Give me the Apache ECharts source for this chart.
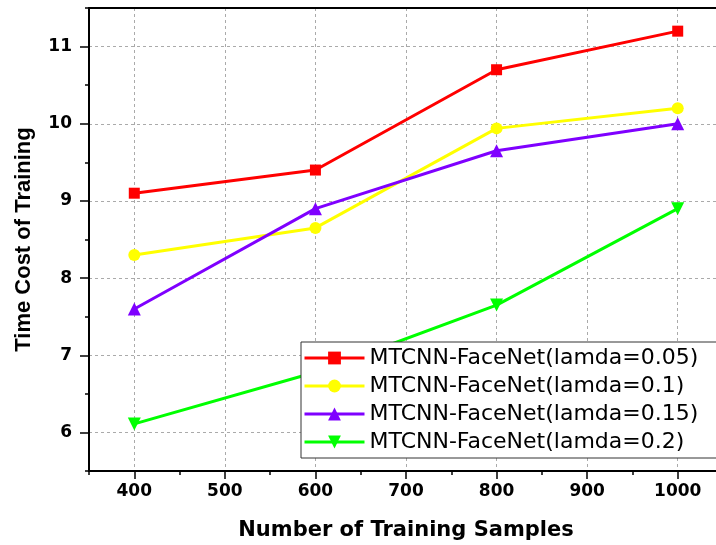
<!DOCTYPE html>
<html>
<head>
<meta charset="utf-8">
<script src="https://cdn.jsdelivr.net/npm/echarts@6/dist/echarts.min.js"></script>
<style>html,body{margin:0;padding:0;background:#fff;}#c{width:716px;height:545px;}</style>
</head>
<body>
<div id="c"></div>
<script>
var samples = [400, 600, 800, 1000];
var seriesNames = ['MTCNN-FaceNet(lamda=0.05)', 'MTCNN-FaceNet(lamda=0.1)', 'MTCNN-FaceNet(lamda=0.15)', 'MTCNN-FaceNet(lamda=0.2)'];
var lamda005 = [9.1, 9.4, 10.7, 11.2];
var lamda01 = [8.3, 8.65, 9.94, 10.2];
var lamda015 = [7.6, 8.9, 9.65, 10.0];
var lamda02 = [6.11, 6.78, 7.65, 8.9];
var xTickLabels = [400, 500, 600, 700, 800, 900, 1000];
var yTickLabels = [6, 7, 8, 9, 10, 11];

var colors = ['#ff0000', '#ffff00', '#7f00ff', '#00ff00'];
var symbols = ['rect', 'circle', 'triangle', 'triangle'];
var rotates = [0, 0, 0, 180];
var sizes = [11, 12, 13, 13];
var values = [lamda005, lamda01, lamda015, lamda02];

function pairs(arr) { return samples.map(function (x, i) { return [x, arr[i]]; }); }
function plain(v) { return String(v); }

var labelFont = { fontFamily: 'DejaVu Sans', fontWeight: 'bold', fontSize: 17, color: '#000' };

var chart = echarts.init(document.getElementById('c'), null, { renderer: 'canvas' });
chart.setOption({
  animation: false,
  backgroundColor: '#fff',
  grid: { left: 89, top: 8, right: -7, bottom: 74, outerBoundsMode: 'none', containLabel: false },
  legend: {
    orient: 'vertical',
    left: 301, top: 342,
    padding: [5, 20, 5, 2],
    itemWidth: 60, itemHeight: 16, itemGap: 6,
    borderColor: '#333', borderWidth: 1,
    backgroundColor: '#fff',
    lineStyle: { width: 3 },
    textStyle: { fontFamily: 'DejaVu Sans', fontSize: 22, color: '#000' },
    data: seriesNames
  },
  xAxis: [
    {
      type: 'value', min: 350, max: 1050, interval: 50, position: 'bottom',
      axisLine: { show: true, lineStyle: { color: '#000', width: 2 } },
      axisTick: { show: true, length: 4, lineStyle: { color: '#000', width: 1.5 } },
      axisLabel: { show: false },
      splitLine: { show: false }
    },
    {
      type: 'value', min: 350, max: 1050, interval: 50, position: 'bottom',
      axisLine: { show: false },
      axisTick: { show: true, length: 8, customValues: xTickLabels, lineStyle: { color: '#000', width: 1.5 } },
      axisLabel: Object.assign({ show: true, margin: 12, customValues: xTickLabels, formatter: plain }, labelFont),
      splitLine: { show: true, lineStyle: { color: '#aaa', type: [3, 3], width: 1 } },
      name: 'Number of Training Samples', nameLocation: 'middle', nameGap: 49,
      nameTextStyle: { fontFamily: 'DejaVu Sans', fontWeight: 'bold', fontSize: 21, color: '#000' }
    },
    {
      type: 'value', min: 350, max: 1050, position: 'top',
      axisLine: { show: true, lineStyle: { color: '#000', width: 2 } },
      axisTick: { show: false }, axisLabel: { show: false }, splitLine: { show: false }
    }
  ],
  yAxis: [
    {
      type: 'value', min: 5.5, max: 11.5, interval: 0.5, position: 'left',
      axisLine: { show: true, lineStyle: { color: '#000', width: 2 } },
      axisTick: { show: true, length: 4, lineStyle: { color: '#000', width: 1.5 } },
      axisLabel: { show: false },
      splitLine: { show: false }
    },
    {
      type: 'value', min: 5.5, max: 11.5, interval: 0.5, position: 'left',
      axisLine: { show: false },
      axisTick: { show: true, length: 9, customValues: yTickLabels, lineStyle: { color: '#000', width: 1.5 } },
      axisLabel: Object.assign({ show: true, margin: 17, customValues: yTickLabels, formatter: plain }, labelFont),
      splitLine: { show: true, lineStyle: { color: '#aaa', type: [3, 3], width: 1 } },
      name: 'Time Cost of Training', nameLocation: 'middle', nameGap: 54,
      nameTextStyle: { fontFamily: 'Liberation Sans', fontWeight: 'bold', fontSize: 22, color: '#000' }
    }
  ],
  series: seriesNames.map(function (n, i) {
    return {
      name: n, type: 'line', xAxisIndex: 1, yAxisIndex: 1,
      data: pairs(values[i]),
      symbol: symbols[i], symbolSize: sizes[i], symbolRotate: rotates[i],
      showAllSymbol: true,
      lineStyle: { color: colors[i], width: 3 },
      itemStyle: { color: colors[i] },
      z: 3
    };
  })
});
</script>
</body>
</html>
